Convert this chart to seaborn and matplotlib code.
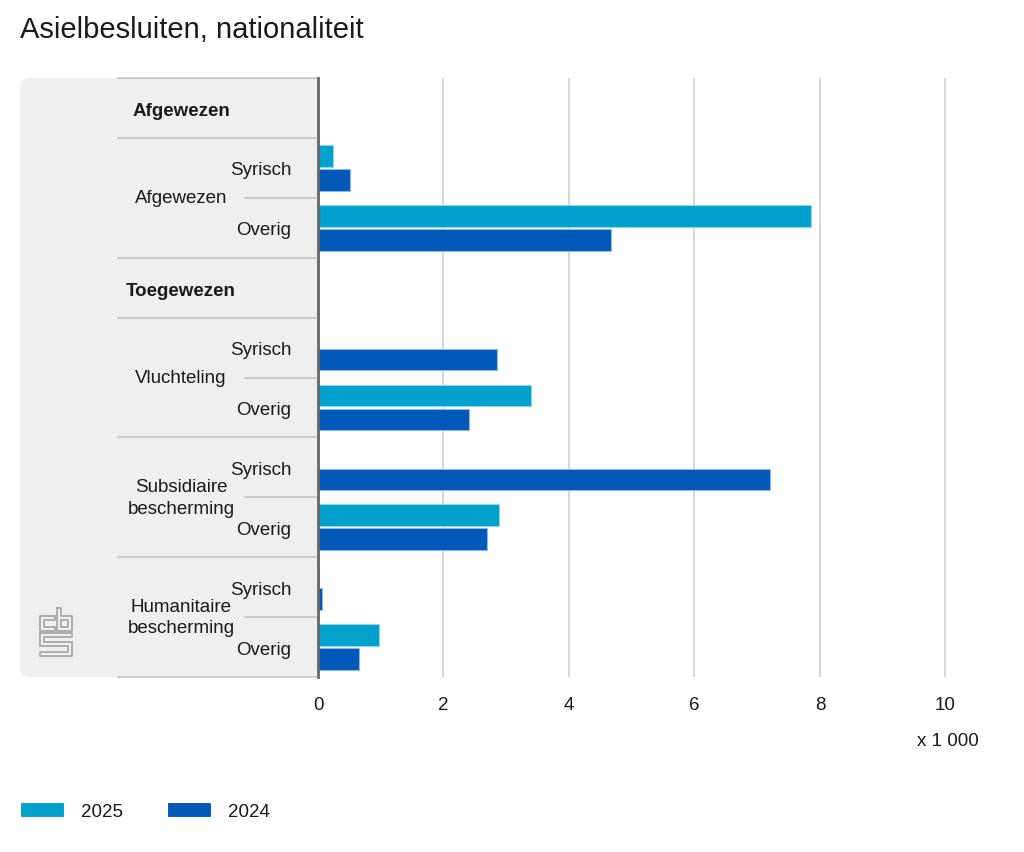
import numpy as np
import pandas as pd
import matplotlib
matplotlib.use("Agg")
import matplotlib.pyplot as plt
import matplotlib.transforms as mtransforms
from matplotlib.patches import FancyBboxPatch
from matplotlib.lines import Line2D
import seaborn as sns

# gegevens (x 1 000)
groepen = ["Afgewezen", "Afgewezen", "Vluchteling", "Vluchteling",
           "Subsidiaire\nbescherming", "Subsidiaire\nbescherming",
           "Humanitaire\nbescherming", "Humanitaire\nbescherming"]
nationaliteit = ["Syrisch", "Overig"] * 4
besluiten_2025 = [0.24, 7.86, 0.0, 3.39, 0.0, 2.88, 0.02, 0.98]
besluiten_2024 = [0.51, 4.67, 2.86, 2.40, 7.20, 2.69, 0.07, 0.65]
jaren = ["2025", "2024"]
kleuren = {"2025": "#00a1cd", "2024": "#0058b8"}
randkleuren = {"2025": "#8fd6ea", "2024": "#90b6e4"}
x_ticks = [0, 2, 4, 6, 8, 10]

# volgorde van rijen, met kopregels zonder balken
rijen = [g + "|" + n for g, n in zip(groepen, nationaliteit)]
volgorde = ["kop_afgewezen"] + rijen[:2] + ["kop_toegewezen"] + rijen[2:]

df = pd.DataFrame({
    "rij": rijen * 2,
    "jaar": ["2025"] * 8 + ["2024"] * 8,
    "waarde": besluiten_2025 + besluiten_2024,
})

sns.set_style("white")
plt.rcParams["font.family"] = ["Liberation Sans", "DejaVu Sans"]
plt.rcParams["font.size"] = 13.5
plt.rcParams["text.color"] = "#1a1a1a"

fig = plt.figure(figsize=(10.24, 8.53), dpi=100)
W, H = 1024, 853


def px(x, y):
    return x / W, 1 - y / H


ax = fig.add_axes([318 / W, (H - 678) / H, 665 / W, 599 / H])

sns.barplot(data=df, y="rij", x="waarde", hue="jaar", hue_order=jaren,
            order=volgorde, palette=kleuren, orient="h", width=0.8, gap=0.1,
            saturation=1, linewidth=0.8, ax=ax)

for cont, jaar in zip(ax.containers, jaren):
    for bar in cont:
        bar.set_edgecolor(randkleuren[jaar])

ax.set_xlim(0, 10.6)
ax.set_ylim(9.5, -0.5)
ax.set_xticks(x_ticks)
ax.set_xticklabels([str(t) for t in x_ticks])
ax.set_yticks(range(len(volgorde)))
ax.set_yticklabels(["" if r.startswith("kop") else r.split("|")[1] for r in volgorde])
ax.tick_params(axis="y", length=0, pad=19, labelsize=13.5, colors="#1a1a1a")
ax.tick_params(axis="x", length=0, pad=14, labelsize=13.5, colors="#1a1a1a")
ax.set_xlabel("")
ax.set_ylabel("")
ax.grid(axis="x", color="#d0d0d0", linewidth=1.2)
ax.set_axisbelow(True)
for s in ["top", "right", "bottom"]:
    ax.spines[s].set_visible(False)
ax.spines["left"].set_color("#666666")
ax.spines["left"].set_linewidth(2)
ax.spines["left"].set_zorder(5)
ax.get_legend().remove()

# grijs paneel links
paneel = FancyBboxPatch((0.20, (H - 678) / 100), 3.1, 5.99,
                        boxstyle="round,pad=0,rounding_size=0.1",
                        transform=fig.dpi_scale_trans, facecolor="#efefef",
                        edgecolor="none", zorder=-1)
fig.patches.append(paneel)

# scheidingslijnen en groepslabels
blend = mtransforms.blended_transform_factory(fig.transFigure, ax.transData)
for yv in [-0.5, 0.5, 2.5, 3.5, 5.5, 7.5, 9.5]:
    fig.add_artist(Line2D([118 / W, 316 / W], [yv, yv], transform=blend,
                          color="#cccccc", linewidth=1.5))
for yv in [1.5, 4.5, 6.5, 8.5]:
    fig.add_artist(Line2D([245 / W, 316 / W], [yv, yv], transform=blend,
                          color="#cccccc", linewidth=1.5))

fig.text(181 / W, 0.05, "Afgewezen", transform=blend, ha="center", va="center",
         fontsize=13.5, fontweight="bold")
fig.text(181 / W, 3.05, "Toegewezen", transform=blend, ha="center", va="center",
         fontsize=13.5, fontweight="bold")
for yv, g in zip([1.5, 4.5, 6.5, 8.5], groepen[::2]):
    fig.text(181 / W, yv, g, transform=blend, ha="center", va="center",
             fontsize=13.5, linespacing=1.35,
             bbox=dict(facecolor="#efefef", edgecolor="none", pad=1))

# cbs-logo (vereenvoudigd)
logo = [
    [(55, 617), (40, 617), (40, 632), (55, 632), (55, 628), (44, 628),
     (44, 621), (55, 621), (55, 617)],
    [(57, 609), (61, 609), (61, 617), (72, 617), (72, 632), (57, 632), (57, 609)],
    [(61, 621), (68, 621), (68, 628), (61, 628), (61, 621)],
    [(40, 634), (72, 634), (72, 638), (44, 638), (44, 643), (72, 643),
     (72, 657), (40, 657), (40, 653), (68, 653), (68, 647), (40, 647), (40, 634)],
]
for pad in logo:
    xs = [p[0] / W for p in pad]
    ys = [1 - p[1] / H for p in pad]
    fig.add_artist(Line2D(xs, ys, transform=fig.transFigure,
                          color="#a8a8a8", linewidth=1.3))

# titel en eenheid
fig.text(*px(20, 30), "Asielbesluiten, nationaliteit", ha="left", va="center",
         fontsize=21)
fig.text(*px(979, 741), "x 1 000", ha="right", va="center", fontsize=13.5)

# legenda
handles, labels = ax.get_legend_handles_labels()
fig.legend(handles, labels, loc="center left", bbox_to_anchor=px(20, 812),
           ncol=2, frameon=False, handlelength=2.35, handleheight=0.9,
           handletextpad=0.9, columnspacing=2.35, borderpad=0, borderaxespad=0,
           fontsize=13.5)

fig.savefig("out.png", dpi=100)
